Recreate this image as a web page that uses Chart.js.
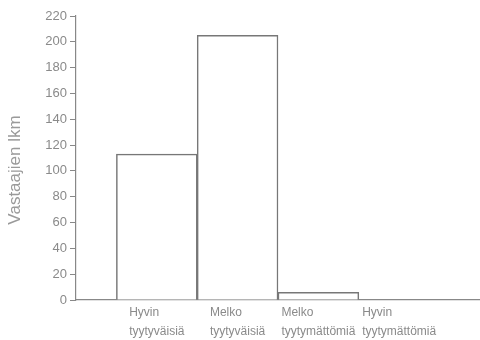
<!DOCTYPE html>
<html><head><meta charset="utf-8">
<script src="https://cdn.jsdelivr.net/npm/chart.js@4"></script>
<style>html,body{margin:0;padding:0;background:#fff}#wrap{width:480px;height:340px}</style>
</head><body><div id="wrap"><canvas id="c" width="480" height="340"></canvas></div>
<script>
const categories = [["Hyvin","tyytyväisiä"],["Melko","tyytyväisiä"],["Melko","tyytymättömiä"],["Hyvin","tyytymättömiä"]];
const values = [113, 205, 6, 0];
const yTitle = "Vastaajien lkm";

const grey = '#8a8a8a';

// Labels: each two-line block centred under its bar, lines left-aligned within the block.
const blockLabels = {
  id: 'blockLabels',
  afterDraw(chart) {
    const ctx = chart.ctx, xs = chart.scales.x, ys = chart.scales.y;
    ctx.save();
    ctx.fillStyle = grey;
    ctx.font = '12px "Liberation Sans"';
    ctx.textAlign = 'left';
    ctx.textBaseline = 'middle';
    categories.forEach((lines, i) => {
      const cx = xs.getPixelForValue(i + 1);
      const w = Math.max(...lines.map(l => ctx.measureText(l).width));
      lines.forEach((l, j) => ctx.fillText(l, cx - w / 2, xs.top + 13 + j * 18.5));
    });
    // y title
    ctx.fillStyle = '#9a9a9a';
    ctx.font = '17px "Liberation Sans"';
    ctx.textAlign = 'center';
    ctx.translate(15, (ys.top + ys.bottom) / 2 + 12);
    ctx.rotate(-Math.PI / 2);
    ctx.fillText(yTitle, 0, 0);
    ctx.restore();
  }
};

new Chart(document.getElementById('c'), {
  type: 'bar',
  data: {
    datasets: [{
      data: values.map((v, i) => ({x: i + 1, y: v})),
      backgroundColor: '#ffffff',
      borderColor: '#777777',
      borderWidth: 1.5,
      barPercentage: 1,
      categoryPercentage: 1
    }]
  },
  options: {
    responsive: false,
    animation: false,
    layout: {padding: {top: 16, right: 0}},
    plugins: {legend: {display: false}, tooltip: {enabled: false}},
    scales: {
      x: {
        type: 'linear', min: 0, max: 5, offset: false,
        afterFit: s => { s.height = 40; },
        ticks: {display: false, stepSize: 1},
        grid: {display: false, offset: false},
        border: {display: true, color: '#888', width: 1.2}
      },
      y: {
        min: 0, max: 220,
        afterFit: s => { s.width = 76; },
        ticks: {
          stepSize: 10, padding: 3, color: grey,
          font: {family: 'Liberation Sans', size: 13},
          callback: v => (v % 20 === 0 ? v : '')
        },
        grid: {drawOnChartArea: false, tickLength: 6,
          tickColor: ctx => (ctx.tick && ctx.tick.value % 20 === 0 ? '#888' : '#bbb')},
        border: {display: true, color: '#888', width: 1.2}
      }
    }
  },
  plugins: [blockLabels]
});
</script></body></html>
